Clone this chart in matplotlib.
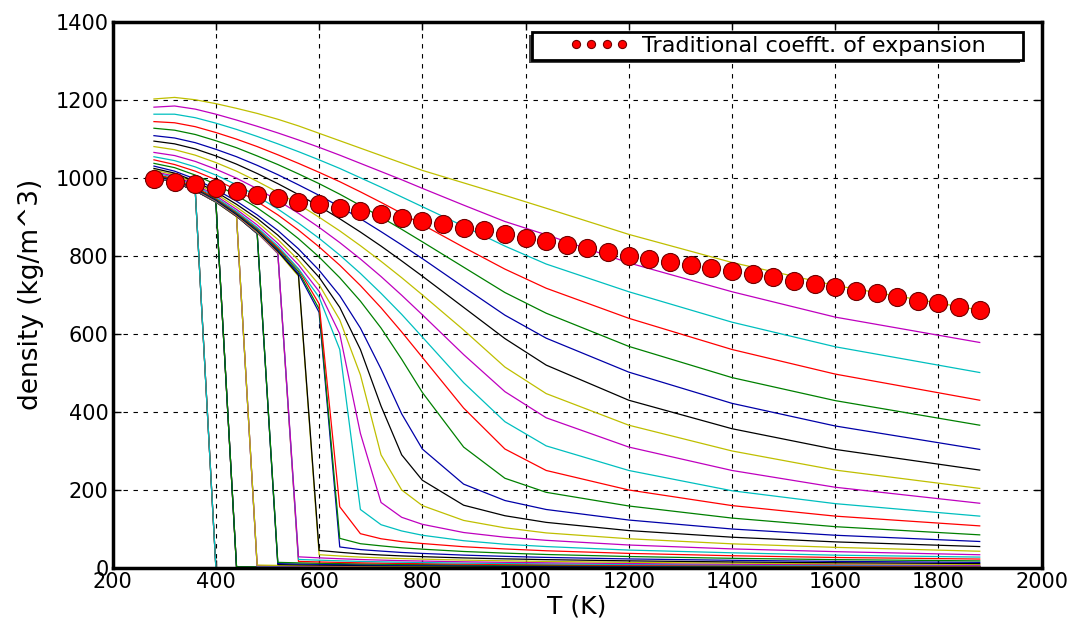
import matplotlib
matplotlib.use('Agg')
import matplotlib.pyplot as plt
from matplotlib.patches import Rectangle

plt.rcParams['font.family'] = ['DejaVu Sans']

# temperature knots (K) for the isobars
t_knots = [280, 320, 360, 400, 440, 480, 520, 560, 600, 640, 680, 720, 760,
           800, 880, 960, 1040, 1200, 1400, 1600, 1880]

# subcritical isobars, lowest pressure first (liquid, then steam after boiling)
sub_rho = [
    [1000, 989, 967, 0.5, 0.5, 0.5, 0.4, 0.4, 0.4, 0.3, 0.3, 0.3, 0.3, 0.3, 0.2, 0.2, 0.2, 0.2, 0.2, 0.1, 0.1],
    [1000, 989, 967, 0.7, 0.6, 0.6, 0.5, 0.5, 0.5, 0.4, 0.4, 0.4, 0.4, 0.3, 0.3, 0.3, 0.3, 0.2, 0.2, 0.2, 0.1],
    [1000, 989, 967, 0.9, 0.8, 0.7, 0.7, 0.6, 0.6, 0.5, 0.5, 0.5, 0.5, 0.4, 0.4, 0.4, 0.3, 0.3, 0.2, 0.2, 0.2],
    [1000, 989, 967, 1.1, 1.0, 0.9, 0.8, 0.8, 0.7, 0.7, 0.6, 0.6, 0.6, 0.5, 0.5, 0.5, 0.4, 0.4, 0.3, 0.3, 0.2],
    [1000, 989, 967, 938, 1.3, 1.1, 1.0, 1.0, 0.9, 0.9, 0.8, 0.8, 0.7, 0.7, 0.6, 0.6, 0.5, 0.5, 0.4, 0.3, 0.3],
    [1000, 989, 967, 938, 1.6, 1.4, 1.3, 1.2, 1.1, 1.1, 1.0, 1.0, 0.9, 0.9, 0.8, 0.7, 0.7, 0.6, 0.5, 0.4, 0.4],
    [1000, 989, 967, 938, 2.0, 1.8, 1.7, 1.5, 1.4, 1.3, 1.3, 1.2, 1.1, 1.1, 1.0, 0.9, 0.8, 0.7, 0.6, 0.5, 0.5],
    [1000, 989, 967, 938, 2.5, 2.3, 2.1, 1.9, 1.8, 1.7, 1.6, 1.5, 1.4, 1.4, 1.2, 1.1, 1.0, 0.9, 0.8, 0.7, 0.6],
    [1000, 989, 967, 938, 3.2, 2.9, 2.6, 2.4, 2.3, 2.1, 2.0, 1.9, 1.8, 1.7, 1.6, 1.4, 1.3, 1.1, 1.0, 0.9, 0.7],
    [1000, 990, 968, 938, 901, 3.7, 3.3, 3.1, 2.9, 2.7, 2.5, 2.4, 2.3, 2.2, 2.0, 1.8, 1.7, 1.4, 1.2, 1.1, 0.9],
    [1000, 990, 968, 938, 901, 4.7, 4.2, 3.9, 3.6, 3.4, 3.2, 3.0, 2.9, 2.7, 2.5, 2.3, 2.1, 1.8, 1.5, 1.4, 1.2],
    [1001, 990, 968, 938, 901, 5.9, 5.3, 4.9, 4.6, 4.3, 4.0, 3.8, 3.6, 3.4, 3.1, 2.8, 2.6, 2.3, 2.0, 1.7, 1.5],
    [1001, 990, 968, 938, 901, 7.5, 6.7, 6.2, 5.8, 5.4, 5.1, 4.8, 4.5, 4.3, 3.9, 3.6, 3.3, 2.9, 2.5, 2.1, 1.8],
    [1001, 990, 968, 939, 902, 857, 8.8, 8.1, 7.5, 7.0, 6.5, 6.1, 5.8, 5.5, 5.0, 4.5, 4.2, 3.6, 3.1, 2.7, 2.3],
    [1001, 990, 968, 939, 902, 857, 11.2, 10.3, 9.5, 8.9, 8.2, 7.7, 7.3, 6.9, 6.3, 5.7, 5.3, 4.6, 3.9, 3.4, 2.9],
    [1001, 991, 969, 939, 902, 858, 14.5, 13.2, 12.2, 11.3, 10.5, 9.8, 9.2, 8.8, 7.9, 7.2, 6.6, 5.7, 4.9, 4.3, 3.6],
    [1002, 991, 969, 940, 903, 859, 806, 17.0, 15.6, 14.4, 13.3, 12.5, 11.7, 11.1, 10.0, 9.1, 8.4, 7.2, 6.2, 5.4, 4.6],
    [1002, 991, 970, 940, 904, 860, 807, 22.0, 20.1, 18.5, 17.0, 15.9, 14.9, 14.1, 12.6, 11.5, 10.6, 9.1, 7.8, 6.8, 5.8],
    [1003, 992, 970, 941, 904, 861, 808, 28.7, 26.1, 23.8, 21.8, 20.3, 18.9, 17.9, 16.0, 14.6, 13.4, 11.5, 9.8, 8.5, 7.3],
    [1004, 993, 971, 942, 905, 862, 810, 748, 34.1, 30.8, 28.0, 26.0, 24.2, 22.8, 20.3, 18.5, 16.9, 14.6, 12.4, 10.8, 9.2],
    [1005, 993, 972, 943, 906, 864, 812, 751, 45.0, 40.3, 36.2, 33.4, 31.0, 29.1, 25.9, 23.5, 21.5, 18.4, 15.6, 13.6, 11.5],
    [1006, 994, 973, 944, 908, 866, 815, 755, 655, 54.0, 47.2, 43.4, 39.9, 37.4, 33.1, 29.9, 27.2, 23.3, 19.8, 17.0, 14.5],
    [1007, 996, 974, 946, 910, 868, 818, 760, 664, 76.0, 62.3, 56.8, 51.8, 48.3, 42.4, 38.2, 34.7, 29.5, 24.9, 21.5, 18.3],
    [1009, 998, 976, 948, 912, 871, 821, 766, 677, 157, 88.0, 75.0, 67.7, 62.8, 54.6, 48.9, 44.2, 37.5, 31.5, 27.0, 23.0],
]

# supercritical isobars, increasing pressure
super_rho = [
    [1013, 1001, 980, 950, 914, 873, 825, 767, 694, 560, 150, 111, 95, 84, 70, 61, 55, 46, 39, 33, 28],
    [1016, 1004, 983, 954, 919, 879, 832, 777, 709, 600, 345, 168, 130, 112, 91, 79, 71, 59, 49, 42, 34],
    [1020, 1008, 987, 959, 925, 887, 842, 789, 726, 636, 495, 290, 200, 160, 122, 103, 90, 75, 62, 53, 43],
    [1024, 1012, 991, 964, 932, 896, 853, 803, 745, 668, 560, 415, 290, 225, 161, 134, 117, 96, 79, 67, 55],
    [1030, 1017, 997, 970, 940, 905, 865, 818, 763, 698, 615, 510, 395, 305, 215, 173, 150, 123, 100, 84, 68],
    [1037, 1026, 1007, 983, 955, 923, 886, 844, 797, 744, 684, 615, 535, 450, 310, 230, 194, 159, 128, 106, 85],
    [1046, 1034, 1017, 995, 969, 939, 905, 866, 823, 776, 724, 667, 605, 540, 410, 305, 250, 200, 160, 133, 108],
    [1054, 1044, 1028, 1007, 982, 953, 920, 884, 845, 802, 755, 704, 650, 592, 475, 375, 313, 250, 198, 165, 133],
    [1065, 1057, 1042, 1022, 999, 972, 942, 909, 873, 834, 792, 747, 699, 649, 547, 452, 385, 310, 250, 207, 166],
    [1080, 1072, 1058, 1039, 1017, 991, 963, 932, 899, 864, 826, 786, 744, 700, 610, 515, 447, 366, 300, 251, 204],
    [1094, 1087, 1074, 1056, 1035, 1011, 985, 957, 927, 895, 861, 825, 787, 748, 668, 588, 520, 430, 357, 304, 251],
    [1108, 1102, 1090, 1073, 1054, 1032, 1008, 982, 955, 926, 895, 862, 828, 793, 720, 648, 589, 502, 422, 364, 304],
    [1127, 1122, 1111, 1095, 1077, 1056, 1034, 1010, 985, 958, 929, 899, 868, 836, 771, 706, 653, 568, 488, 429, 366],
    [1144, 1141, 1131, 1116, 1099, 1080, 1059, 1037, 1014, 990, 964, 937, 909, 880, 822, 766, 717, 640, 560, 497, 430],
    [1163, 1163, 1154, 1140, 1124, 1106, 1087, 1067, 1046, 1024, 1000, 976, 951, 926, 876, 825, 779, 708, 630, 567, 501],
    [1181, 1184, 1176, 1163, 1148, 1132, 1115, 1097, 1078, 1058, 1037, 1016, 995, 973, 930, 888, 854, 782, 708, 643, 578],
    [1202, 1206, 1200, 1190, 1178, 1165, 1150, 1133, 1114, 1095, 1076, 1057, 1038, 1019, 987, 955, 922, 855, 783, 724, 661],
]

# constant thermal expansion coefficient curve
t_dots = [280, 320, 360, 400, 440, 480, 520, 560, 600, 640, 680, 720, 760, 800,
          840, 880, 920, 960, 1000, 1040, 1080, 1120, 1160, 1200, 1240, 1280,
          1320, 1360, 1400, 1440, 1480, 1520, 1560, 1600, 1640, 1680, 1720,
          1760, 1800, 1840, 1880]
rho_dots = [997, 990, 983, 974, 966, 957, 949, 939, 932, 923, 915, 907, 898, 890,
            881, 872, 865, 855, 847, 839, 829, 819, 809, 800, 792, 784,
            777, 769, 761, 753, 745, 735, 729, 721, 711, 704, 695,
            685, 678, 670, 661]

# old matplotlib colour cycle b g r c m y k
line_colors = ['#0000a8', '#008000', '#ff0000', '#00bfbf', '#bf00bf', '#bfbf00', '#000000']

fig = plt.figure(figsize=(10.72, 6.31), dpi=100)
ax = fig.add_axes([0.1051, 0.0998, 0.8666, 0.8658])

for i, rho in enumerate(sub_rho + super_rho):
    ax.plot(t_knots, rho, color=line_colors[i % 7], linewidth=0.9)

dots, = ax.plot(t_dots, rho_dots, 'o', color='#ff0000', markersize=13,
                markeredgecolor='#700000', markeredgewidth=0.8,
                label='Traditional coefft. of expansion', zorder=5)

ax.set_xlim(200, 2000)
ax.set_ylim(0, 1400)
ax.set_xticks(range(200, 2001, 200))
ax.set_yticks(range(0, 1401, 200))
ax.grid(True, color='black', linestyle=(0, (4, 5)), linewidth=0.8)
ax.tick_params(direction='in', length=6, width=1, top=True, right=True,
               labelsize=15, pad=3)
for s in ax.spines.values():
    s.set_linewidth(2.5)

ax.set_xlabel('T (K)', fontsize=18, labelpad=2)
ax.set_ylabel('density (kg/m^3)', fontsize=19, labelpad=8)

# legend box (framed by hand, with a dark shadow to the lower left)
shadow = Rectangle((0.4935, 0.9005), 0.458, 0.0447, transform=fig.transFigure,
                   facecolor='#444444', edgecolor='none', zorder=8)
frame = Rectangle((0.4963, 0.9049), 0.458, 0.0449, transform=fig.transFigure,
                  facecolor='white', edgecolor='black', linewidth=2, zorder=9)
fig.patches.extend([shadow, frame])
leg = fig.legend(handles=[dots], loc='center', bbox_to_anchor=(0.7253, 0.9273),
                 numpoints=4, markerscale=0.45, fontsize=16, frameon=False,
                 handlelength=2.7, handletextpad=0.6, borderpad=0.1)
leg.set_zorder(10)

fig.savefig('out.png', dpi=100)
